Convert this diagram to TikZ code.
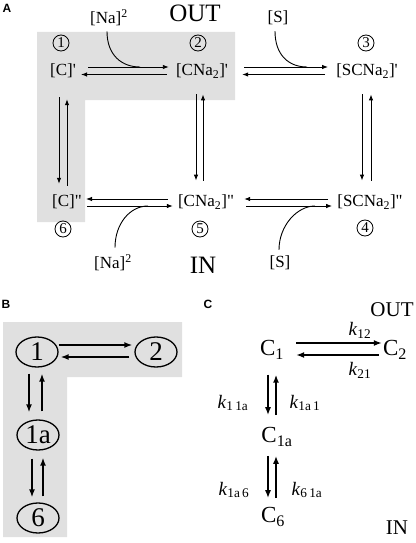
\documentclass[tikz,border=0pt]{standalone}
\usepackage{fontspec}
\setmainfont{Liberation Serif}
\setsansfont{Liberation Sans}
\usepackage{tikz}
\usetikzlibrary{positioning, arrows.meta, shapes.geometric, calc}

\begin{document}
\begin{tikzpicture} [x=1pt, y=-1pt]
    \tikzset{
      spec/.style={font=\fontsize{17}{17}\selectfont, inner sep=0pt},
      num/.style={draw=black, circle, inner sep=0pt, minimum size=16pt, line width=0.8pt, font=\fontsize{15}{15}\selectfont},
      side/.style={font=\fontsize{25}{25}\selectfont, inner sep=0pt},
      panel/.style={font=\fontsize{12}{12}\selectfont\sffamily\bfseries, inner sep=0pt},
      rxn/.style={-{Latex[length=6pt,width=4.5pt]}, line width=0.9pt},
      feed/.style={line width=0.9pt},
      state/.style={draw=black, ellipse, line width=1.3pt, minimum width=42pt, minimum height=30pt, inner sep=0pt, font=\fontsize{27}{27}\selectfont},
      thk/.style={-{Latex[length=8pt,width=6pt]}, line width=1.6pt},
      kin/.style={font=\fontsize{19}{19}\selectfont, inner sep=0pt},
      sidec/.style={font=\fontsize{21}{21}\selectfont, inner sep=0pt},
      comp/.style={font=\fontsize{23}{23}\selectfont, inner sep=0pt},
      shade/.style={fill=black!12}
    }
    \useasboundingbox (0,0) rectangle (415,543);

    % panel A
    \fill[shade] (37,32) -| (235,100) -| (85,222) -| cycle;
    \node[panel] (labA) at (7,8) {A};
    \node[side]  (outA) at (195,13) {OUT};
    \node[side]  (inA)  at (203,265) {IN};

    \node[num] (n1) at (61,43)  {1};
    \node[num] (n2) at (198,43) {2};
    \node[num] (n3) at (366,43) {3};
    \node[num] (n6) at (63,229)  {6};
    \node[num] (n5) at (200,229) {5};
    \node[num] (n4) at (365,228) {4};

    \node[spec] (c1) at (63,71)  {[C]\textquotesingle};
    \node[spec] (c2) at (202,71) {[CNa\textsubscript{2}]\textquotesingle};
    \node[spec] (c3) at (367,71) {[SCNa\textsubscript{2}]\textquotesingle};
    \node[spec] (c6) at (67,202)  {[C]\textquotedbl};
    \node[spec] (c5) at (206,202) {[CNa\textsubscript{2}]\textquotedbl};
    \node[spec] (c4) at (370,202) {[SCNa\textsubscript{2}]\textquotedbl};

    \node[spec] (na1) at (109,18)  {[Na]\textsuperscript{2}};
    \node[spec] (s1)  at (278,18)  {[S]};
    \node[spec] (na2) at (113,263) {[Na]\textsuperscript{2}};
    \node[spec] (s2)  at (280,263) {[S]};

    \coordinate (j1) at (140,67);
    \coordinate (j2) at (307,67);
    \coordinate (j3) at (148,206);
    \coordinate (j4) at (315,206);

    % top row
    \draw[rxn] ([xshift=12pt,yshift=4pt]c1.east) -- ([xshift=-7pt,yshift=4pt]c2.west);
    \draw[rxn] ([xshift=-9pt,yshift=-3.5pt]c2.west) -- ([xshift=5pt,yshift=-3.5pt]c1.east);
    \draw[rxn] ([xshift=16pt,yshift=4pt]c2.east) -- ([xshift=-8pt,yshift=4pt]c3.west);
    \draw[rxn] ([xshift=-11pt,yshift=-3.5pt]c3.west) -- ([xshift=14pt,yshift=-3.5pt]c2.east);
    \draw[feed] ([xshift=-2pt,yshift=-5pt]na1.south) .. controls +(0,24) and +(-18,0) .. (j1);
    \draw[feed] ([xshift=-3pt,yshift=-6pt]s1.south) .. controls +(0,24) and +(-18,0) .. (j2);

    % bottom row
    \draw[rxn] ([xshift=-10pt,yshift=3pt]c5.west) -- ([xshift=4pt,yshift=3pt]c6.east);
    \draw[rxn] ([xshift=5pt,yshift=-4pt]c6.east) -- ([xshift=-5pt,yshift=-4pt]c5.west);
    \draw[rxn] ([xshift=-9pt,yshift=3pt]c4.west) -- ([xshift=10pt,yshift=3pt]c5.east);
    \draw[rxn] ([xshift=12pt,yshift=-4pt]c5.east) -- ([xshift=-5pt,yshift=-4pt]c4.west);
    \draw[feed] ([xshift=2pt,yshift=7pt]na2.north) .. controls +(0,-24) and +(-18,0) .. (j3);
    \draw[feed] ([xshift=-1pt,yshift=6pt]s2.north) .. controls +(0,-24) and +(-18,0) .. (j4);

    % columns
    \draw[rxn] ($(c1.south)+(-4,19)$) -- ($(c1.south |- c6.north)+(-4,-11)$);
    \draw[rxn] ($(c1.south |- c6.north)+(4,-9)$) -- ($(c1.south)+(4,21)$);
    \draw[rxn] ($(c2.south)+(-6,16)$) -- ($(c2.south |- c5.north)+(-6,-14)$);
    \draw[rxn] ($(c2.south |- c5.north)+(1,-14)$) -- ($(c2.south)+(1,16)$);
    \draw[rxn] ($(c3.south)+(-5,16)$) -- ($(c3.south |- c4.north)+(-5,-14)$);
    \draw[rxn] ($(c3.south |- c4.north)+(4,-14)$) -- ($(c3.south)+(4,16)$);

    % panel B
    \fill[shade] (3,322) -| (182,377) -| (67,537) -| cycle;
    \node[panel] (labB) at (6,304) {B};
    \node[state] (b1)  at (37,352)  {1};
    \node[state] (b2)  at (156,352) {2};
    \node[state] (b1a) at (38,435)  {1a};
    \node[state] (b6)  at (38,518)  {6};

    \draw[thk] ([yshift=7pt]b1.east) -- ([xshift=-2pt,yshift=7pt]b2.west);
    \draw[thk] ([xshift=-5pt,yshift=-5pt]b2.west) -- ([xshift=2pt,yshift=-5pt]b1.east);
    \draw[thk] ($(b1.south)+(-8,6)$) -- ($(b1.south |- b1a.north)+(-8,-7)$);
    \draw[thk] ($(b1.south |- b1a.north)+(5,-8)$) -- ($(b1.south)+(5,6)$);
    \draw[thk] ($(b1a.south)+(-6,8)$) -- ($(b1a.south |- b6.north)+(-6,-5)$);
    \draw[thk] ($(b1a.south |- b6.north)+(5,-6)$) -- ($(b1a.south)+(5,7)$);

    % panel C
    \node[panel] (labC) at (208,304) {C};
    \node[sidec] (outC) at (392,310) {OUT};
    \node[sidec] (inC)  at (397,528) {IN};
    \node[comp] (k1)  at (272,350) {C\textsubscript{1}};
    \node[comp] (k2)  at (395,350) {C\textsubscript{2}};
    \node[comp] (k1a) at (277,437) {C\textsubscript{1a}};
    \node[comp] (k6)  at (273,517) {C\textsubscript{6}};

    \node[kin] (r12)   at (360,330) {\textit{k}\textsubscript{12}};
    \node[kin] (r21)   at (360,370) {\textit{k}\textsubscript{21}};
    \node[kin] (r11a)  at (233,403) {\textit{k}\textsubscript{1\,1a}};
    \node[kin] (r1a1)  at (305,403) {\textit{k}\textsubscript{1a\,1}};
    \node[kin] (r1a6)  at (234,490) {\textit{k}\textsubscript{1a\,6}};
    \node[kin] (r61a)  at (307,490) {\textit{k}\textsubscript{6\,1a}};

    \draw[thk] ([xshift=12pt,yshift=7pt]k1.east) -- ([xshift=-1pt,yshift=7pt]k2.west);
    \draw[thk] ([xshift=-4pt,yshift=-5pt]k2.west) -- ([xshift=12pt,yshift=-5pt]k1.east);
    \draw[thk] ($(k1.south)+(-4,15)$) -- ($(k1.south |- k1a.north)+(-4,-12)$);
    \draw[thk] ($(k1.south |- k1a.north)+(4,-12)$) -- ($(k1.south)+(4,15)$);
    \draw[thk] ($(k1.south |- k1a.south)+(-4,9)$) -- ($(k1.south |- k6.north)+(-4,-9)$);
    \draw[thk] ($(k1.south |- k6.north)+(4,-9)$) -- ($(k1.south |- k1a.south)+(4,9)$);

  \end{tikzpicture}
\end{document}
